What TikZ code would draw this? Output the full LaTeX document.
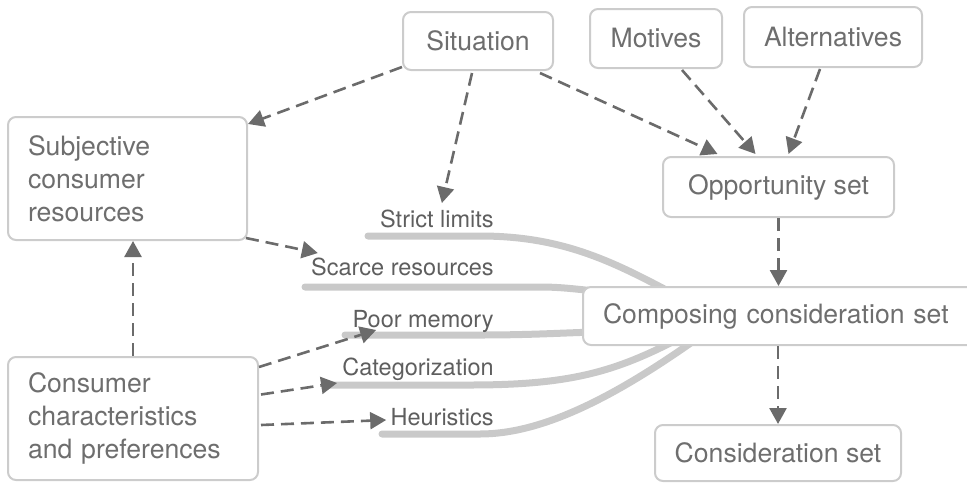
\documentclass[tikz,border=0pt]{standalone}
\usepackage{fontspec}
\setmainfont{TeX Gyre Heros}
\usetikzlibrary{arrows.meta,calc}
\definecolor{boxline}{HTML}{CCCCCC}
\definecolor{txt}{HTML}{6E6E6E}
\definecolor{lbl}{HTML}{5E5E5E}
\definecolor{arr}{HTML}{6B6B6B}
\definecolor{bandgray}{HTML}{C9C9C9}
\begin{document}
\begin{tikzpicture}[x=0.5pt,y=-0.5pt,
  box/.style={draw=boxline, line width=1pt, rounded corners=4pt, fill=white,
    text=txt, font=\fontsize{13.3}{16.4}\selectfont, inner sep=0pt, align=center},
  tag/.style={text=lbl, font=\fontsize{11.75}{14}\selectfont, inner sep=0pt, anchor=base east},
  band/.style={draw=bandgray, line width=3.5pt, line cap=round},
  link/.style={draw=arr, line width=1.3pt, dash pattern=on 6.5pt off 3.5pt,
    -{Triangle[length=8pt,width=8.5pt]}},
]
\useasboundingbox (0,0) rectangle (967,482);
\clip (0,0) rectangle (967,482);

% grey bands feeding the composing step
\draw[band] (368,236) -- (480,236) .. controls (560,236) and (610,260) .. (670,292);
\draw[band] (305,287) -- (540,287) .. controls (560,287) and (575,289) .. (595,291);
\draw[band] (345,335) -- (480,335) .. controls (530,335) and (560,333) .. (595,332);
\draw[band] (330,385) -- (470,385) .. controls (570,385) and (615,372) .. (680,338);
\draw[band] (382,434) -- (480,434) .. controls (540,434) and (610,400) .. (695,340);

% boxes
\node[box, minimum width=75pt, minimum height=29pt] (sit) at (478,41) {Situation};
\node[box, minimum width=66pt, minimum height=29.5pt] (mot) at (656,38.5) {Motives};
\node[box, minimum width=89pt, minimum height=30pt] (alt) at (833,37) {Alternatives};
\node[box, minimum width=115.5pt, minimum height=30pt] (opp) at (778.5,187) {Opportunity set};
\node[box, align=left, text width=99.5pt, inner xsep=10pt, minimum height=61.5pt] (subj) at (127.5,178.5)
  {Subjective\\consumer\\resources};
\node[box, align=left, text width=105pt, inner xsep=10pt, minimum height=61.5pt] (cchar) at (133,418.5)
  {Consumer\\characteristics\\and preferences};
\node[box, anchor=west, align=left, text width=180pt, inner xsep=10pt, minimum height=29pt] (comp) at (582,316)
  {Composing consideration set};
\node[box, minimum width=123pt, minimum height=28pt] (cons) at (778,453) {Consideration set};

% band labels
\node[tag] (strict) at (494,227) {Strict limits};
\node[tag] (scarce) at (494,275) {Scarce resources};
\node[tag] (memory) at (494,327) {Poor memory};
\node[tag] (categ) at (494,375) {Categorization};
\node[tag] (heur) at (494,425) {Heuristics};

% influences
\draw[link] ($(sit.south west)+(0,-4)$) -- ($(subj.north east)+(0,8)$);
\draw[link] ($(sit.south)+(-6,2)$) -- ($(strict.north)+(5,-6)$);
\draw[link] ($(sit.south)+(62,2)$) -- ($(opp.north)+(-61,-2)$);
\draw[link] ($(mot.south)+(26,1)$) -- ($(opp.north)+(-23,-2)$);
\draw[link] ($(alt.south)+(-13,1)$) -- ($(opp.north)+(10,-2)$);
\draw[link] (opp.south) -- (opp.south |- comp.north);
\draw[link] (cons.north |- comp.south) -- (cons.north);
\draw[link] ($(subj.south east)+(-2,-3)$) -- ($(scarce.north west)+(7,-4)$);
\draw[link] (cchar.north) -- (cchar.north |- subj.south);
\draw[link] ($(cchar.north east)+(0,11)$) -- ($(memory.base west)+(24,3)$);
\draw[link] ($(cchar.east)+(2,-24)$) -- ($(categ.base west)+(-5,8)$);
\draw[link] ($(cchar.east)+(2,6.5)$) -- ($(heur.base west)+(-4,-5)$);
\end{tikzpicture}
\end{document}
